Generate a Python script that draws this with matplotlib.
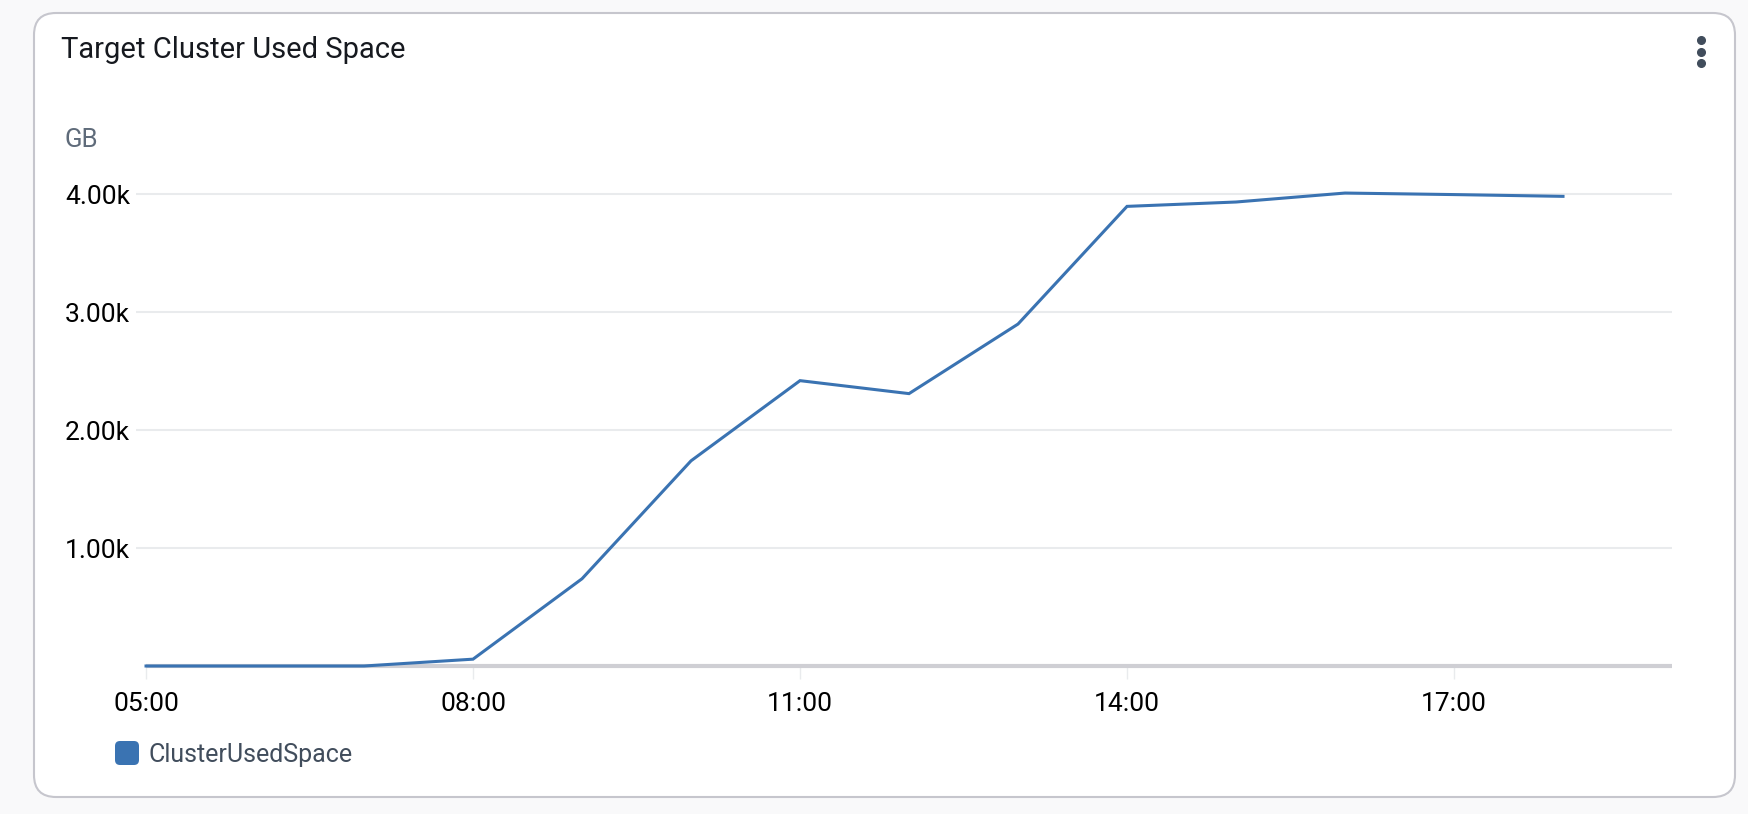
import matplotlib as mpl
import matplotlib.pyplot as plt
from matplotlib.patches import FancyBboxPatch

mpl.rcParams['font.family'] = ['Roboto', 'DejaVu Sans']

# data
hours = [5, 6, 7, 8, 9, 10, 11, 12, 13, 14, 15, 16, 17, 18]
used_gb = [0, 0, 0, 58, 740, 1740, 2420, 2310, 2900, 3898, 3935, 4011, 3998, 3983]
xtick_pos = [5, 8, 11, 14, 17]
xtick_labels = ['05:00', '08:00', '11:00', '14:00', '17:00']
ytick_pos = [1000, 2000, 3000, 4000]
ytick_labels = ['1.00k', '2.00k', '3.00k', '4.00k']

W, H = 1748, 814
fig = plt.figure(figsize=(W / 100, H / 100), dpi=100)
fig.patch.set_facecolor('#f9f9fa')

# background card, pixel coords
bg = fig.add_axes([0, 0, 1, 1])
bg.set_xlim(0, W)
bg.set_ylim(H, 0)
bg.axis('off')
card = FancyBboxPatch((34, 13), 1701, 784, boxstyle='round,pad=0,rounding_size=22',
                      facecolor='white', edgecolor='#c6c6cd', linewidth=1.5)
bg.add_patch(card)
bg.text(61, 58, 'Target Cluster Used Space', fontsize=21, color='#16191f', va='baseline')
bg.text(65, 147, 'GB', fontsize=18.5, color='#5f6b7a', va='baseline')
bg.plot([1701, 1701, 1701], [40, 52, 63], 'o', ms=5.5, color='#414d5c')
sq = FancyBboxPatch((115, 741), 24, 24, boxstyle='round,pad=0,rounding_size=5',
                    facecolor='#3a73b2', edgecolor='none')
bg.add_patch(sq)
bg.text(149, 762, 'ClusterUsedSpace', fontsize=18, color='#414d5c', va='baseline')

# chart
ax = fig.add_axes([136 / W, 148 / H, 1536 / W, 0.6084])
ax.patch.set_alpha(0)
for s in ax.spines.values():
    s.set_visible(False)
ax.set_xlim(4.908, 19.0)
ax.set_ylim(0, 4200)

for y in ytick_pos:
    ax.axhline(y, color='#e9ebed', linewidth=1.5, zorder=1)
ax.hlines(0, 5, 19.0, color='#cfcfd4', linewidth=3, zorder=2, clip_on=False)
ax.plot(hours, used_gb, color='#3a73b2', linewidth=2.2, zorder=3, clip_on=False,
        solid_joinstyle='miter')

ax.set_xticks(xtick_pos)
ax.set_xticklabels(xtick_labels)
ax.set_yticks(ytick_pos)
ax.set_yticklabels(ytick_labels)
ax.tick_params(axis='x', length=9, width=1, color='#e9ebed', pad=10, labelsize=19,
               labelcolor='#000000')
ax.tick_params(axis='y', length=0, pad=51, labelsize=19, labelcolor='#000000')
for lab in ax.get_yticklabels():
    lab.set_horizontalalignment('left')

plt.savefig('out.png', dpi=100)
